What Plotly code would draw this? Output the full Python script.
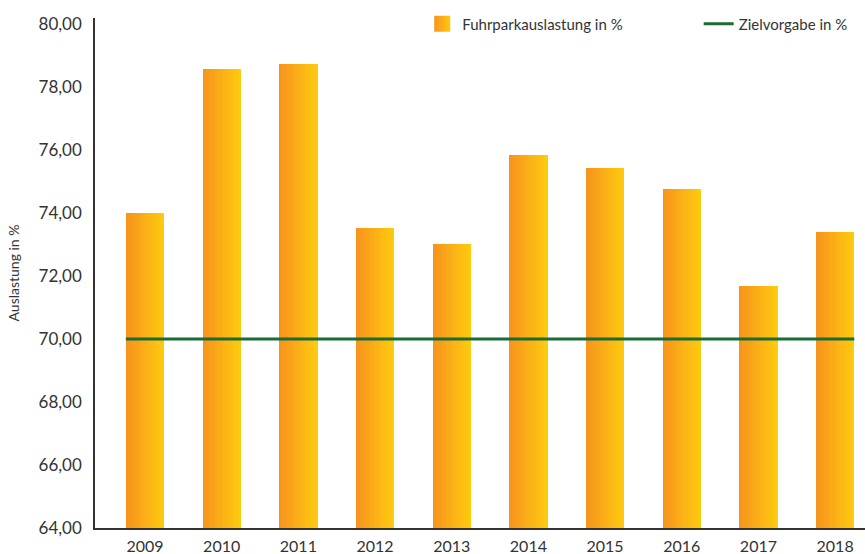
import plotly.graph_objects as go

years = ["2009", "2010", "2011", "2012", "2013", "2014", "2015", "2016", "2017", "2018"]
auslastung = [74.02, 78.59, 78.75, 73.54, 73.03, 75.86, 75.45, 74.78, 71.70, 73.41]
zielvorgabe = 70.0
yticks = [64, 66, 68, 70, 72, 74, 76, 78, 80]

c_left = (247, 148, 29)
c_right = (254, 202, 14)
FONT = "Lato, 'Open Sans', sans-serif"
TXT = "#333333"

idx = list(range(len(years)))
bar_w = 0.5
n_strips = 24
sw = bar_w / n_strips

fig = go.Figure()
for k in range(n_strips):
    t = k / (n_strips - 1)
    col = "rgb({},{},{})".format(*[round(a + (b - a) * t) for a, b in zip(c_left, c_right)])
    w = sw * 1.6 if k < n_strips - 1 else sw
    fig.add_trace(go.Bar(
        x=idx, y=[v - 64 for v in auslastung], base=64,
        offset=-bar_w / 2 + k * sw, width=w,
        marker=dict(color=col, line=dict(width=0)),
        showlegend=False, hoverinfo="skip",
    ))

# legend entry for bars (gradient square)
fig.add_trace(go.Scatter(
    x=[None], y=[None], mode="markers", name="Fuhrparkauslastung in %",
    marker=dict(symbol="square", size=26, color="rgb(247,148,29)",
                gradient=dict(type="horizontal", color="rgb(254,202,14)")),
    legend="legend",
))

fig.add_trace(go.Scatter(
    x=[idx[0] - bar_w / 2, idx[-1] + bar_w / 2], y=[zielvorgabe, zielvorgabe],
    mode="lines", name="Zielvorgabe in %",
    line=dict(color="#1b6b34", width=3),
    legend="legend2",
))

leg_common = dict(orientation="h", yanchor="middle", y=0.988,
                  font=dict(size=15, color=TXT), itemsizing="trace",
                  bgcolor="rgba(0,0,0,0)")

fig.update_layout(
    width=865, height=554,
    margin=dict(l=95, r=0, t=18, b=26),
    paper_bgcolor="white", plot_bgcolor="white",
    barmode="overlay", bargap=0,
    separators=",.",
    font=dict(family=FONT, color=TXT, size=16),
    legend=dict(x=0.425, xanchor="left", **leg_common),
    legend2=dict(x=0.784, xanchor="left", **leg_common),
    xaxis=dict(range=[-0.652, 9.39], tickvals=idx, ticktext=years,
               showgrid=False, zeroline=False, showline=True,
               linecolor="#333333", linewidth=1.5, ticks="",
               ticklabelstandoff=3,
               tickfont=dict(size=16, color=TXT)),
    yaxis=dict(range=[64, 80.2], tickvals=yticks, tickformat=".2f",
               showgrid=False, zeroline=False, showline=True,
               linecolor="#333333", linewidth=1.5, ticks="",
               ticklabelstandoff=8,
               tickfont=dict(size=17, color=TXT),
               title=dict(text="Auslastung in %", font=dict(size=14, color=TXT), standoff=16)),
)

fig.write_html("out.html", config={"displayModeBar": False},
               post_script="document.body.style.margin='0';")
